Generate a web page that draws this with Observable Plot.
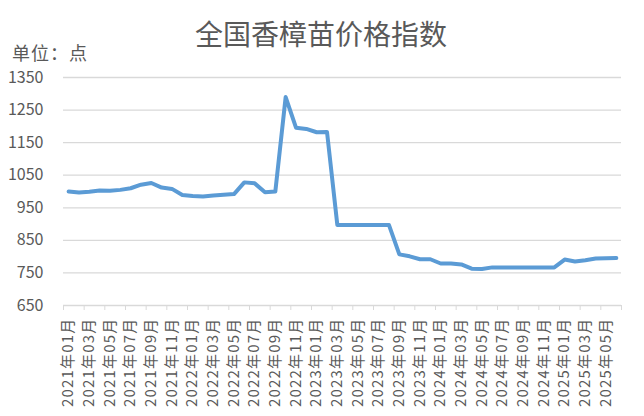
<!DOCTYPE html>
<html><head><meta charset="utf-8">
<script src="https://cdn.jsdelivr.net/npm/d3@7"></script>
<script src="https://cdn.jsdelivr.net/npm/@observablehq/plot@0.6"></script>
<style>
body{margin:0;background:#fff;font-family:"Noto Sans CJK SC","Noto Sans",sans-serif;}
#wrap{width:644px;position:relative;}
#head{position:relative;height:62px;}
#title{position:absolute;left:0;width:642px;text-align:center;top:17px;line-height:32px;font-size:28px;color:#595959;}
#unit{position:absolute;left:12px;top:42px;line-height:20px;font-size:18px;letter-spacing:1px;color:#595959;}
g[aria-label="x-axis tick label"] text{letter-spacing:1.2px;}
</style></head>
<body><div id="wrap"><div id="head"><div id="title">全国香樟苗价格指数</div><div id="unit">单位：点</div></div><div id="chart"></div></div>
<script>
const months = [
"2021年01月","2021年02月","2021年03月","2021年04月","2021年05月","2021年06月","2021年07月","2021年08月","2021年09月","2021年10月","2021年11月","2021年12月",
"2022年01月","2022年02月","2022年03月","2022年04月","2022年05月","2022年06月","2022年07月","2022年08月","2022年09月","2022年10月","2022年11月","2022年12月",
"2023年01月","2023年02月","2023年03月","2023年04月","2023年05月","2023年06月","2023年07月","2023年08月","2023年09月","2023年10月","2023年11月","2023年12月",
"2024年01月","2024年02月","2024年03月","2024年04月","2024年05月","2024年06月","2024年07月","2024年08月","2024年09月","2024年10月","2024年11月","2024年12月",
"2025年01月","2025年02月","2025年03月","2025年04月","2025年05月","2025年06月"
];
const values = [
1000, 997, 999, 1003, 1002, 1005, 1010, 1021, 1026, 1012, 1008, 989,
986, 985, 988, 990, 992, 1028, 1025, 998, 1000, 1290, 1196, 1192,
1182, 1183, 897, 897, 897, 897, 897, 897, 807, 801, 792, 792,
779, 779, 776, 763, 762, 767, 767, 767, 767, 767, 767, 767,
791, 785, 789, 794, 795, 796
];
const yTicks = [650, 750, 850, 950, 1050, 1150, 1250, 1350];

const data = months.map((m, i) => ({i, month: m, value: values[i]}));
const labelIdx = months.map((m, i) => i).filter(i => i % 2 === 0);
const boundaries = d3.range(0, months.length + 1, 2).map(k => k - 0.5);

const chart = Plot.plot({
  width: 644,
  height: 354,
  marginLeft: 63,
  marginRight: 23,
  marginTop: 15,
  marginBottom: 111,
  style: {fontFamily: '"Noto Sans CJK SC","Noto Sans",sans-serif', color: "#595959", background: "#fff"},
  x: {domain: [-0.5, months.length - 0.5]},
  y: {domain: [650, 1350]},
  marks: [
    Plot.gridY(yTicks, {stroke: "#d9d9d9", strokeOpacity: 1, strokeWidth: 1.3}),
    Plot.axisX(boundaries, {tickSize: 5, tickFormat: () => "", stroke: "#d9d9d9", strokeOpacity: 1, label: null}),
    Plot.axisX(labelIdx, {tickSize: 0, tickRotate: -90, tickPadding: 12, tickFormat: i => months[i], fontSize: 15, fill: "#595959", label: null}),
    Plot.axisY(yTicks, {tickSize: 0, tickPadding: 20, fontSize: 16, fill: "#595959", label: null, tickFormat: d => String(d)}),
    Plot.line(data, {x: "i", y: "value", stroke: "#5b9bd5", strokeWidth: 4, strokeLinejoin: "round", strokeLinecap: "round"})
  ]
});
document.getElementById("chart").appendChild(chart);
</script></body></html>
